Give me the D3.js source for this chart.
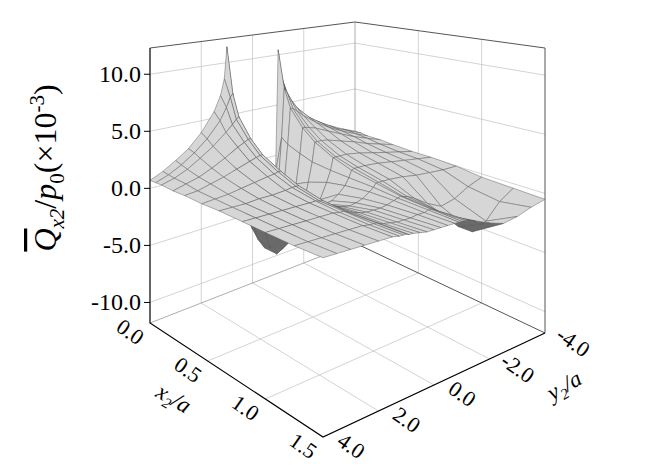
<!DOCTYPE html>
<html><head><meta charset="utf-8">
<script src="https://cdn.jsdelivr.net/npm/d3@7"></script>
<style>body{margin:0;background:#fff}</style>
</head><body><svg id="c" width="672" height="469" font-family="'Liberation Serif','Times New Roman',serif"></svg>
<script>
const xVals=[0,0.05,0.1,0.2,0.3,0.45,0.6,0.8,1.0,1.25,1.5];
const yVals=[-4,-3.5,-3,-2.5,-2,-1.5,-1.25,-1.1,-1,-0.9,-0.75,-0.5,-0.25,0,0.25,0.5,0.75,0.9,1,1.1,1.25,1.5,2,2.5,3,3.5,4];
const zGrid=[
[0.4,1.0,1.7,2.5,3.5,5.0,6.5,8.0,10.5,-1.7,-4,-6,-6.5,-6,-5,-3,0,3,11.5,8.5,7.0,5.6,3.9,2.7,1.9,1.2,0.7],
[0.4,1.0,1.6,2.4,3.3,4.6,5.6,6.4,6.8,2.0,-3,-6.5,-7.5,-7,-6,-4,-1,2,7.2,6.9,6.0,4.9,3.5,2.5,1.7,1.1,0.7],
[0.3,0.9,1.5,2.2,3.0,4.0,4.6,4.9,5.0,1.5,-2.5,-6.5,-8,-7.8,-6.8,-4.5,-1.5,1.5,5.2,5.0,4.6,4.0,3.0,2.2,1.5,1.0,0.7],
[0.3,0.8,1.3,1.9,2.5,3.1,3.3,3.4,3.4,1.0,-1.8,-5.5,-7.5,-7.8,-7,-5,-2,0.8,3.5,3.5,3.3,3.0,2.3,1.7,1.2,0.9,0.6],
[0.2,0.6,1.0,1.5,1.9,2.3,2.4,2.4,2.4,0.6,-1.2,-4,-5.8,-6.2,-5.6,-4,-1.5,0.5,2.4,2.4,2.3,2.1,1.7,1.3,1.0,0.7,0.6],
[0.1,0.4,0.7,1.0,1.3,1.5,1.5,1.5,1.5,0.4,-0.6,-2,-2.8,-3.0,-2.8,-2.1,-0.8,0.3,1.5,1.5,1.4,1.3,1.1,0.9,0.7,0.6,0.5],
[0.1,0.3,0.5,0.7,0.9,1.0,1.0,1.0,0.9,0.3,-0.3,-0.9,-1.3,-1.4,-1.3,-0.9,-0.3,0.2,0.8,0.8,0.8,0.7,0.6,0.6,0.5,0.5,0.5],
[0,0,0.1,0.2,0.4,0.5,0.5,0.5,0.5,0.2,-0.1,-0.5,-0.7,-0.8,-0.7,-0.5,-0.2,0.1,0.3,0.3,0.4,0.4,0.4,0.4,0.4,0.4,0.4],
[-0.3,-0.8,-1.5,-1.8,-1.2,-0.4,-0.1,0,0.1,0,-0.1,-0.3,-0.4,-0.4,-0.4,-0.3,-0.1,0,0.1,0.2,0.2,0.3,0.3,0.3,0.3,0.3,0.3],
[-0.4,-1.2,-2.5,-3.0,-2.2,-0.9,-0.4,-0.2,-0.1,-0.1,-0.2,-0.2,-0.3,-0.3,-0.3,-0.2,-0.1,0,0.1,0.1,0.1,0.2,0.2,0.2,0.2,0.2,0.2],
[-0.5,-0.8,-1.2,-1.4,-1.0,-0.5,-0.3,-0.2,-0.2,-0.2,-0.2,-0.2,-0.2,-0.2,-0.2,-0.1,0,0,0.1,0.1,0.1,0.2,0.2,0.2,0.2,0.2,0.2]];
const xTicks=[0,0.5,1.0,1.5], yTicks=[4,2,0,-2,-4], zTicks=[-10,-5,0,5,10];

const svg=d3.select("#c");
const su=d3.scaleLinear().domain([0,1.5]).range([0,1]);
const sv=d3.scaleLinear().domain([4,-4]).range([0,1]);
const sw=d3.scaleLinear().domain([-11.8,12.3]).range([0,1]);
const A=[150,323],B=[323,437],C=[545,333],D=[355,243];
const HA=275,HB=360,HC=285,HD=221;
function P(x,y,z){const u=su(x),v=sv(y),w=sw(z);
 const a=(1-u)*(1-v),b=u*(1-v),c=u*v,d=(1-u)*v;
 const px=a*A[0]+b*B[0]+c*C[0]+d*D[0], py=a*A[1]+b*B[1]+c*C[1]+d*D[1];
 const H=a*HA+b*HB+c*HC+d*HD; return [px,py-w*H];}
const line=d3.line();
const g=svg.append("g");
const z0=-11.8,z1=12.3;
const grid=[];
zTicks.forEach(z=>{grid.push([P(0,4,z),P(0,-4,z),P(1.5,-4,z)]);});
yTicks.slice(1,4).forEach(y=>{grid.push([P(0,y,z0),P(0,y,z1)]);grid.push([P(1.5,y,z0),P(0,y,z0)]);});
xTicks.slice(1,3).forEach(x=>{grid.push([P(x,-4,z0),P(x,-4,z1)]);grid.push([P(x,4,z0),P(x,-4,z0)]);});
grid.forEach(p=>g.append("path").attr("d",line(p)).attr("fill","none").attr("stroke","#c8c8c8").attr("stroke-width",0.8));
[[P(0,4,z0),P(0,-4,z0)],[P(0,-4,z0),P(0,-4,z1)]].forEach(p=>g.append("path").attr("d",line(p)).attr("fill","none").attr("stroke","#999").attr("stroke-width",0.8));
[[P(0,4,z1),P(0,-4,z1),P(1.5,-4,z1)],[P(1.5,-4,z1),P(1.5,-4,z0)],[P(0,-4,z0),P(1.5,-4,z0)]].forEach(p=>g.append("path").attr("d",line(p)).attr("fill","none").attr("stroke","#555").attr("stroke-width",1));
const quads=[];
for(let i=0;i<xVals.length-1;i++)for(let j=0;j<yVals.length-1;j++){
 const pts=[[i,j],[i+1,j],[i+1,j+1],[i,j+1]].map(([a,b])=>P(xVals[a],yVals[b],zGrid[a][b]));
 const uc=su((xVals[i]+xVals[i+1])/2), vc=sv((yVals[j]+yVals[j+1])/2);
 let area=0;for(let k=0;k<4;k++){const p=pts[k],q=pts[(k+1)%4];area+=p[0]*q[1]-q[0]*p[1];}
 quads.push({pts,key:uc+(1-vc),area});}
quads.sort((a,b)=>a.key-b.key);
g.selectAll(".q").data(quads).join("path").attr("d",d=>line(d.pts)+"Z")
 .attr("fill",d=>d.area>0?"#d6d6d6":"#6a6a6a").attr("stroke","#555").attr("stroke-width",0.45).attr("stroke-linejoin","round");
g.append("path").attr("d",line([P(0,4,z1),P(0,4,z0),P(1.5,4,z0),P(1.5,-4,z0)])).attr("fill","none").attr("stroke","#000").attr("stroke-width",1.2);
zTicks.forEach(z=>{const p=P(0,4,z);
 g.append("line").attr("x1",p[0]-6).attr("x2",p[0]).attr("y1",p[1]).attr("y2",p[1]).attr("stroke","#000");
 g.append("text").attr("x",p[0]-9).attr("y",p[1]+8).attr("text-anchor","end").attr("font-size",24).text(z.toFixed(1));});
xTicks.forEach(x=>{const p=P(x,4,z0);
 g.append("text").attr("transform",`translate(${p[0]-24},${p[1]+15}) rotate(35)`).attr("text-anchor","middle").attr("font-size",22).text(x.toFixed(1));});
yTicks.forEach(y=>{const p=P(1.5,y,z0);
 g.append("text").attr("transform",`translate(${p[0]+24},${p[1]+15}) rotate(35)`).attr("text-anchor","middle").attr("font-size",22).text(y.toFixed(1));});
const tx=g.append("text").attr("transform","translate(170,405) rotate(30)").attr("text-anchor","middle").attr("font-size",23).attr("font-style","italic");
tx.append("tspan").text("x");tx.append("tspan").attr("font-size",15).attr("dy",5).text("2");tx.append("tspan").attr("dy",-5).text("/a");
const ty=g.append("text").attr("transform","translate(568,392) rotate(-30)").attr("text-anchor","middle").attr("font-size",23).attr("font-style","italic");
ty.append("tspan").text("y");ty.append("tspan").attr("font-size",15).attr("dy",5).text("2");ty.append("tspan").attr("dy",-5).text("/a");
const tz=g.append("text").attr("transform","translate(56,168) rotate(-90)").attr("text-anchor","middle").attr("font-size",32);
tz.append("tspan").attr("font-style","italic").attr("text-decoration","overline").text("Q");
tz.append("tspan").attr("font-style","italic").attr("font-size",21).attr("dy",8).text("x2");
tz.append("tspan").attr("dy",-8).text("/");
tz.append("tspan").attr("font-style","italic").text("p");
tz.append("tspan").attr("font-size",21).attr("dy",8).text("0");
tz.append("tspan").attr("dy",-8).text("(×10");
tz.append("tspan").attr("font-size",21).attr("dy",-12).text("-3");
tz.append("tspan").attr("dy",12).text(")");
</script></body></html>
